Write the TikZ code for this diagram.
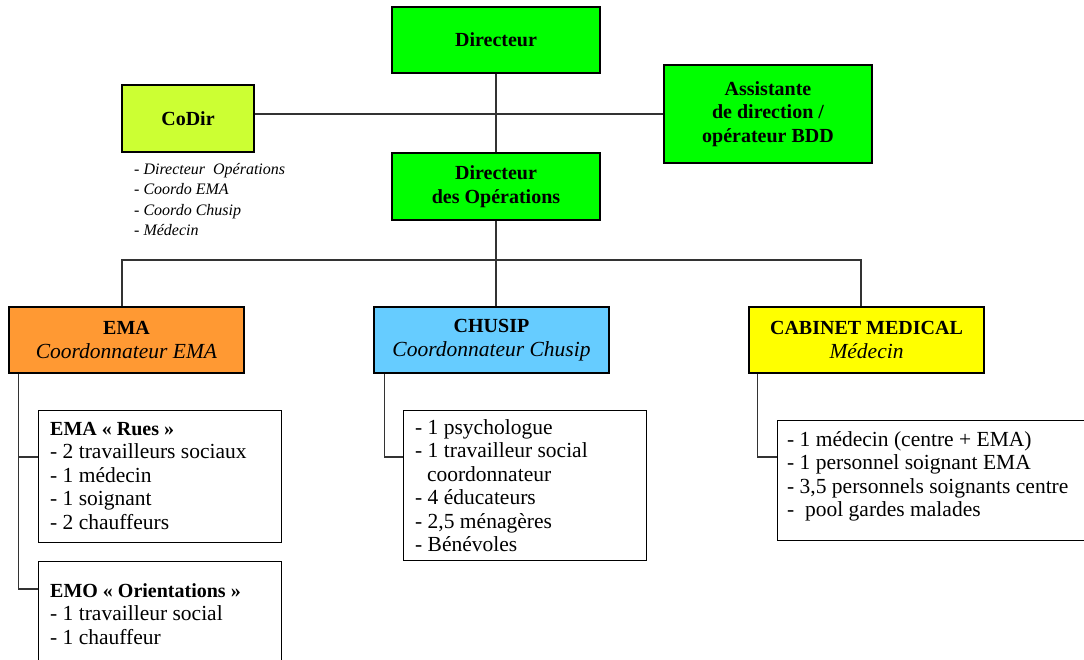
\documentclass[tikz,border=0pt]{standalone}
\usepackage{fontspec}
\setmainfont{Liberation Serif}
\usetikzlibrary{calc}

\definecolor{DirGreen}{HTML}{00FF00}
\definecolor{CoDirLime}{HTML}{CCFF33}
\definecolor{EmaOrange}{HTML}{FF9933}
\definecolor{ChusipBlue}{HTML}{66CCFF}
\definecolor{CabinetYellow}{HTML}{FFFF00}
\definecolor{LinkGray}{HTML}{333333}

\newcommand{\chartsize}{\fontsize{21.5pt}{23.5pt}\selectfont}
\newcommand{\membersize}{\fontsize{16pt}{20.5pt}\selectfont}
\newcommand{\hd}[1]{{\fontsize{20pt}{23.5pt}\selectfont\bfseries #1}}

\begin{document}
\begin{tikzpicture}[x=1pt, y=-1pt,
    unitbox/.style={draw=black, line width=1.2pt, font=\chartsize, align=center,
      inner sep=0pt, minimum width=208pt, minimum height=66pt},
    listframe/.style={draw=black, line width=1.2pt, anchor=north west, inner sep=0pt},
    listtext/.style={font=\chartsize, align=left, anchor=north west, inner sep=0pt},
    link/.style={draw=LinkGray, line width=1.3pt}]

    \useasboundingbox (0,0) rectangle (1084,660);
    \clip (0,0) rectangle (1084,660);

    % ---------- Direction

    \node[unitbox, fill=DirGreen] (dir) at (496,40) {\hd{Directeur}};
    \node[unitbox, fill=DirGreen, minimum height=67pt] (dirop) at (496,186.5)
      {\hd{Directeur}\\\hd{des Opérations}};
    \node[unitbox, fill=CoDirLime, minimum width=132pt, minimum height=67pt] (codir) at (188,118.5)
      {\hd{CoDir}};
    \node[unitbox, fill=DirGreen, minimum height=98pt] (assist) at (768,114)
      {\hd{Assistante}\\\hd{de direction /}\\\hd{opérateur BDD}};

    \node[font=\membersize\itshape, align=left, anchor=north west, inner sep=0pt] (codirlist) at (134,163)
      {- Directeur~ Opérations\\- Coordo EMA\\- Coordo Chusip\\- Médecin};

    \draw[link] (dir) -- (dirop);
    \draw[link] (codir.east |- assist.west) -- (assist.west);

    % ---------- Services

    \node[unitbox, fill=EmaOrange, minimum width=235pt] (ema) at (126.5,340)
      {\hd{EMA}\\\textit{Coordonnateur EMA}};
    \node[unitbox, fill=ChusipBlue, minimum width=235pt] (chusip) at (491.5,340)
      {\hd{CHUSIP}\\\textit{Coordonnateur Chusip}};
    \node[unitbox, fill=CabinetYellow, minimum width=235pt] (cabinet) at (866.5,340)
      {\hd{CABINET MEDICAL}\\\textit{Médecin}};

    \coordinate (bus) at (496,260);
    \draw[link] (dirop.south) -- (bus);
    \draw[link] ([xshift=-4.5pt]ema.north) |- (bus) -| ([xshift=-5.5pt]cabinet.north);
    \draw[link] (bus) -- (bus |- chusip.north);

    % ---------- Teams

    \coordinate (branch) at (0,457);

    \node[listframe, minimum width=243pt, minimum height=132pt] (rues) at (38,410) {};
    \node[listframe, minimum width=243pt, minimum height=140pt] (emo) at (38,561) {};
    \node[listframe, minimum width=243pt, minimum height=150pt] (chusiplist) at (403,410) {};
    \node[listframe, minimum width=330pt, minimum height=120pt] (cablist) at (777,420) {};

    \node[listtext] (ruestext) at ($(rues.north west)+(12,12)$)
      {\hd{EMA « Rues »}\\- 2 travailleurs sociaux\\- 1 médecin\\- 1 soignant\\- 2 chauffeurs};
    \node[listtext] (emotext) at ($(emo.north west)+(12,22)$)
      {\hd{EMO « Orientations »}\\- 1 travailleur social\\- 1 chauffeur};
    \node[listtext] (chusiptext) at ($(chusiplist.north west)+(12,9)$)
      {- 1 psychologue\\- 1 travailleur social\\\hspace*{0.55em}coordonnateur\\- 4 éducateurs\\- 2,5 ménagères\\- Bénévoles};
    \node[listtext] (cabtext) at ($(cablist.north west)+(10,11)$)
      {- 1 médecin (centre + EMA)\\- 1 personnel soignant EMA\\- 3,5 personnels soignants centre\\-~ pool gardes malades};

    \coordinate (emaLeg) at ($(ema.south west)+(10,0)$);
    \coordinate (chusipLeg) at ($(chusip.south west)+(11,0)$);
    \coordinate (cabinetLeg) at ($(cabinet.south west)+(9,0)$);

    \draw[link] (emaLeg) |- (rues.west |- branch);
    \draw[link] (emaLeg) |- ($(emo.north west)+(0,28)$);
    \draw[link] (chusipLeg) |- (chusiplist.west |- branch);
    \draw[link] (cabinetLeg) |- (cablist.west |- branch);

\end{tikzpicture}
\end{document}
